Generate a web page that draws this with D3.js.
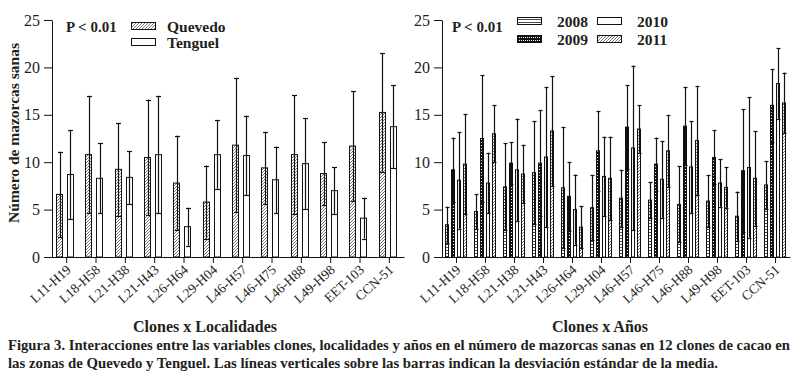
<!DOCTYPE html>
<html lang="es">
<head>
<meta charset="utf-8">
<script src="https://d3js.org/d3.v7.min.js"></script>
<style>
  body { margin: 0; background: #fff; }
  text { font-family: "Liberation Serif", "DejaVu Serif", serif; fill: #231f20; }
  .bold { font-weight: bold; }
</style>
</head>
<body>
<div id="chart"></div>
<script>
// clones (x categories)
const clones = ["L11-H19", "L18-H58", "L21-H38", "L21-H43", "L26-H64", "L29-H04",
                "L46-H57", "L46-H75", "L46-H88", "L49-H98", "EET-103", "CCN-51"];
const yTicks = [0, 5, 10, 15, 20, 25];

// left panel: clones x localidades (mean, sd)
const quevedo    = [6.6, 10.8, 9.25, 10.5, 7.8, 5.8, 11.8, 9.4, 10.8, 8.8, 11.7, 15.25];
const quevedoSd  = [4.5, 6.2, 4.9, 6.1, 5.0, 3.85, 7.1, 3.8, 6.25, 3.3, 5.8, 6.25];
const tenguel    = [8.7, 8.3, 8.4, 10.8, 3.2, 10.8, 10.7, 8.15, 9.85, 7.0, 4.1, 13.75];
const tenguelSd  = [4.7, 3.7, 2.8, 6.2, 2.0, 3.6, 4.2, 3.5, 4.8, 2.45, 2.15, 4.35];

// right panel: clones x años (mean, sd)
const y2008   = [3.4, 4.8, 7.4, 8.9, 7.3, 5.2, 6.2, 6.0, 5.55, 5.9, 4.3, 7.6];
const sd2008  = [1.9, 1.85, 4.6, 5.4, 6.4, 3.45, 3.0, 1.9, 4.0, 2.7, 2.6, 2.5];
const y2009   = [9.2, 12.5, 9.9, 9.9, 6.4, 11.2, 13.7, 9.8, 13.8, 10.5, 9.1, 16.0];
const sd2009  = [3.4, 6.7, 2.2, 5.6, 3.65, 4.2, 4.4, 2.8, 4.1, 2.85, 6.5, 3.85];
const y2010   = [8.1, 7.8, 9.2, 10.55, 5.0, 8.5, 11.5, 8.2, 9.5, 7.8, 9.45, 18.3];
const sd2010  = [5.1, 3.2, 5.4, 7.4, 3.7, 4.2, 8.7, 4.05, 4.85, 2.5, 7.4, 3.7];
const y2011   = [9.8, 13.0, 8.75, 13.3, 3.15, 8.3, 13.5, 11.2, 12.3, 7.35, 8.3, 16.25];
const sd2011  = [5.3, 3.0, 3.1, 5.8, 2.2, 4.4, 2.5, 3.8, 5.75, 2.15, 5.0, 3.2];

const caption1 = "Figura 3. Interacciones entre las variables clones, localidades y años en el número de mazorcas sanas en 12 clones de cacao en";
const caption2 = "las zonas de Quevedo y Tenguel. Las líneas verticales sobre las barras indican la desviación estándar de la media.";

var svg = d3.select("#chart").append("svg")
    .attr("width", 799)
    .attr("height", 380);

// fill patterns
var defs = svg.append("defs");
var hatch = defs.append("pattern").attr("id", "hatch")
    .attr("patternUnits", "userSpaceOnUse").attr("width", 3).attr("height", 3);
hatch.append("path").attr("d", "M-1,1 l2,-2 M0,3 l3,-3 M2,4 l2,-2")
    .attr("stroke", "#444").attr("stroke-width", 0.7);

var hlines = defs.append("pattern").attr("id", "hlines")
    .attr("patternUnits", "userSpaceOnUse").attr("width", 4).attr("height", 3);
hlines.append("rect").attr("width", 4).attr("height", 3).attr("fill", "#fff");
hlines.append("rect").attr("y", 1).attr("width", 4).attr("height", 0.8).attr("fill", "#222");

var dots = defs.append("pattern").attr("id", "dots")
    .attr("patternUnits", "userSpaceOnUse").attr("width", 2).attr("height", 3);
dots.append("rect").attr("width", 2).attr("height", 3).attr("fill", "#111");
dots.append("rect").attr("x", 1).attr("y", 1).attr("width", 1).attr("height", 1).attr("fill", "#fff");

var y = d3.scaleLinear().domain([0, 25]).range([257, 20]);

function drawPanel(p) {
  var g = svg.append("g");
  var x0 = d3.scaleBand().domain(clones).range(p.xRange);
  var x1 = d3.scaleBand().domain(p.series.map(function(s){ return s.name; }))
      .range(p.innerRange).paddingInner(p.innerPad);

  // y axis
  var yAxis = g.append("g")
      .attr("transform", "translate(" + p.xRange[0] + ",0)")
      .call(d3.axisLeft(y).tickValues(yTicks).tickSize(8).tickPadding(4).tickSizeOuter(0));
  yAxis.selectAll("text").style("font-size", "16px").attr("fill", "#231f20");

  // x axis (ticks at group centres)
  var xAxis = g.append("g")
      .attr("transform", "translate(0," + y(0) + ")")
      .call(d3.axisBottom(x0).tickSize(6).tickSizeOuter(0).tickFormat(""));
  xAxis.selectAll(".tick text").remove();
  g.selectAll(".domain, .tick line").attr("stroke", "#111");

  // rotated category labels
  g.selectAll(".clab").data(clones).enter().append("text")
      .attr("class", "clab")
      .attr("text-anchor", "end")
      .attr("transform", function(d){
        return "translate(" + (x0(d) + x0.bandwidth() / 2 + 5) + "," + (y(0) + 14) + ") rotate(-42)";
      })
      .style("font-size", "13.5px")
      .text(function(d){ return d; });

  // bars
  p.series.forEach(function(s) {
    g.selectAll(null).data(clones).enter().append("rect")
        .attr("x", function(d){ return Math.round(x0(d) + x1(s.name)) + 0.5; })
        .attr("y", function(d, i){ return y(s.mean[i]); })
        .attr("width", Math.round(x1.bandwidth()) - 1)
        .attr("height", function(d, i){ return y(0) - y(s.mean[i]); })
        .attr("fill", s.fill)
        .attr("stroke", "#111")
        .attr("stroke-width", 1);
  });

  // error bars
  p.series.forEach(function(s) {
    var cx = function(d){ return Math.round(x0(d) + x1(s.name) + x1.bandwidth() / 2) + 0.5; };
    var lo = function(i){ return y(Math.max(0, s.mean[i] - s.sd[i])); };
    var hi = function(i){ return y(s.mean[i] + s.sd[i]); };
    g.selectAll(null).data(clones).enter().append("line")
        .attr("x1", cx).attr("x2", cx)
        .attr("y1", function(d, i){ return lo(i); })
        .attr("y2", function(d, i){ return hi(i); })
        .attr("stroke", "#111").attr("stroke-width", 1.2);
    [hi, lo].forEach(function(f) {
      g.selectAll(null).data(clones).enter().append("line")
          .attr("x1", function(d){ return cx(d) - p.cap; })
          .attr("x2", function(d){ return cx(d) + p.cap; })
          .attr("y1", function(d, i){ return Math.round(f(i)) + 0.5; })
          .attr("y2", function(d, i){ return Math.round(f(i)) + 0.5; })
          .attr("stroke", "#111").attr("stroke-width", 1.2);
    });
  });

  // P value
  g.append("text").attr("class", "bold")
      .attr("x", p.pX).attr("y", 32)
      .style("font-size", "15px")
      .text("P < 0.01");

  // legend
  p.legend.forEach(function(l) {
    g.append("rect")
        .attr("x", l.x + 0.5).attr("y", l.y - 9.5)
        .attr("width", 24).attr("height", 7)
        .attr("fill", l.fill).attr("stroke", "#111");
    g.append("text").attr("class", "bold")
        .attr("x", l.x + l.dx).attr("y", l.y)
        .style("font-size", "15.5px")
        .text(l.name);
  });

  // x title
  g.append("text").attr("class", "bold")
      .attr("x", p.titleX).attr("y", 332)
      .attr("text-anchor", "middle")
      .style("font-size", "16px")
      .text(p.title);
}

drawPanel({
  xRange: [52, 404],
  innerRange: [4, 22],
  innerPad: 0.36,
  cap: 2.5,
  series: [
    {name: "Quevedo", mean: quevedo, sd: quevedoSd, fill: "url(#hatch)"},
    {name: "Tenguel", mean: tenguel, sd: tenguelSd, fill: "#fff"}
  ],
  pX: 66,
  legend: [
    {name: "Quevedo", x: 131, y: 32, dx: 36, fill: "url(#hatch)"},
    {name: "Tenguel", x: 131, y: 48, dx: 36, fill: "#fff"}
  ],
  title: "Clones x Localidades",
  titleX: 205
});

drawPanel({
  xRange: [442, 790],
  innerRange: [3, 25],
  innerPad: 0.33,
  cap: 2,
  series: [
    {name: "2008", mean: y2008, sd: sd2008, fill: "url(#hlines)"},
    {name: "2009", mean: y2009, sd: sd2009, fill: "url(#dots)"},
    {name: "2010", mean: y2010, sd: sd2010, fill: "#fff"},
    {name: "2011", mean: y2011, sd: sd2011, fill: "url(#hatch)"}
  ],
  pX: 452,
  legend: [
    {name: "2008", x: 517, y: 27, dx: 40, fill: "url(#hlines)"},
    {name: "2009", x: 517, y: 45, dx: 40, fill: "url(#dots)"},
    {name: "2010", x: 597, y: 27, dx: 40, fill: "#fff"},
    {name: "2011", x: 597, y: 45, dx: 40, fill: "url(#hatch)"}
  ],
  title: "Clones x Años",
  titleX: 600
});

// y title (shared, left)
svg.append("text").attr("class", "bold")
    .attr("transform", "translate(19,133) rotate(-90)")
    .attr("text-anchor", "middle")
    .style("font-size", "15.5px")
    .text("Número de mazorcas sanas");

// caption
svg.append("text").attr("class", "bold")
    .attr("x", 8).attr("y", 350)
    .attr("textLength", 782).attr("lengthAdjust", "spacingAndGlyphs")
    .style("font-size", "14.5px")
    .text(caption1);
svg.append("text").attr("class", "bold")
    .attr("x", 8).attr("y", 368)
    .attr("textLength", 710).attr("lengthAdjust", "spacingAndGlyphs")
    .style("font-size", "14.5px")
    .text(caption2);
</script>
</body>
</html>
